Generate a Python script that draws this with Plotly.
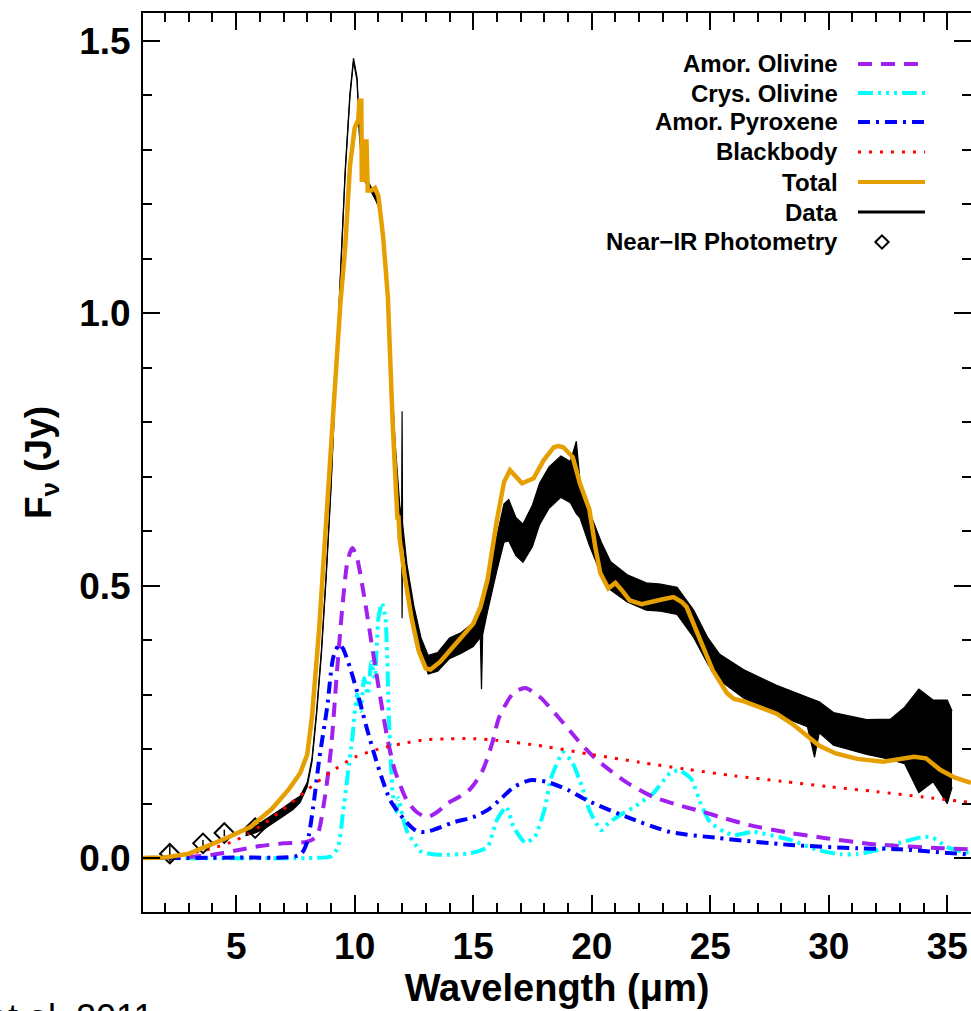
import plotly.graph_objects as go

# ---------------- data ----------------
data_wl = [5.4, 5.8, 6.2, 6.6, 7.0, 7.4, 7.7, 8.0, 8.2, 8.4, 8.6, 8.8, 9.0, 9.2, 9.4, 9.6, 9.8, 9.95,
           10.1, 10.2, 10.35, 10.6, 10.9, 11.1, 11.3, 11.5, 11.7, 11.9, 11.98, 12.0, 12.02, 12.2, 12.5,
           12.8, 13.1, 13.5, 14.0, 14.5, 15.0, 15.3, 15.35, 15.4, 15.6, 16.0, 16.3, 16.5, 16.8, 17.1,
           17.5, 17.8, 18.2, 18.7, 19.1, 19.35, 19.5, 19.9, 20.4, 20.8, 21.5, 22.3, 22.9, 23.6, 24.3,
           24.9, 25.4, 26.4, 27.8, 29.1, 29.4, 29.6, 30.2, 31.6, 32.6, 33.2, 33.8, 34.4, 35.0, 35.2]
data_lo = [0.041, 0.046, 0.054, 0.065, 0.077, 0.089, 0.102, 0.131, 0.177, 0.267, 0.377, 0.517, 0.677,
           0.877, 1.077, 1.257, 1.397, 1.462, 1.427, 1.327, 1.247, 1.231, 1.206, 1.186, 1.096, 0.915,
           0.754, 0.632, 0.600, 0.440, 0.590, 0.520, 0.438, 0.376, 0.338, 0.343, 0.366, 0.376, 0.388,
           0.405, 0.310, 0.410, 0.452, 0.528, 0.580, 0.582, 0.555, 0.543, 0.572, 0.612, 0.642, 0.662,
           0.652, 0.632, 0.625, 0.574, 0.520, 0.492, 0.470, 0.455, 0.453, 0.447, 0.405, 0.356, 0.326,
           0.294, 0.263, 0.241, 0.185, 0.230, 0.207, 0.190, 0.181, 0.173, 0.120, 0.140, 0.100, 0.130]
data_hi = [0.049, 0.058, 0.070, 0.081, 0.093, 0.105, 0.114, 0.139, 0.183, 0.273, 0.383, 0.523, 0.683,
           0.883, 1.083, 1.263, 1.403, 1.468, 1.433, 1.333, 1.253, 1.239, 1.214, 1.194, 1.104, 0.925,
           0.766, 0.648, 0.625, 0.820, 0.615, 0.540, 0.462, 0.404, 0.372, 0.377, 0.404, 0.414, 0.432,
           0.455, 0.455, 0.460, 0.508, 0.592, 0.650, 0.658, 0.625, 0.613, 0.648, 0.688, 0.718, 0.738,
           0.728, 0.765, 0.695, 0.636, 0.580, 0.544, 0.520, 0.505, 0.503, 0.497, 0.455, 0.404, 0.374,
           0.346, 0.317, 0.295, 0.290, 0.287, 0.267, 0.254, 0.255, 0.277, 0.310, 0.290, 0.290, 0.270]

total_wl = [1.0, 2.0, 3.0, 3.6, 4.5, 5.6, 6.5, 7.2, 7.7, 8.0, 8.2, 8.5, 8.8, 9.1, 9.4, 9.6, 9.8, 10.0,
            10.15, 10.2, 10.28, 10.3, 10.4, 10.45, 10.5, 10.55, 10.7, 10.86, 11.0, 11.2, 11.4, 11.6,
            11.8, 11.85, 11.9, 12.1, 12.4, 12.7, 13.0, 13.2, 13.6, 14.0, 14.5, 15.0, 15.3, 15.6, 16.0,
            16.3, 16.55, 16.8, 17.06, 17.55, 17.97, 18.4, 18.6, 18.8, 19.2, 19.5, 19.9, 20.15, 20.36,
            20.7, 21.0, 21.3, 21.6, 22.1, 22.6, 23.0, 23.45, 23.8, 24.0, 24.3, 24.6, 25.1, 25.7, 26.0,
            26.4, 27.0, 27.8, 28.5, 29.1, 29.6, 30.3, 31.2, 32.3, 33.0, 33.6, 34.1, 34.7, 35.3, 36.0]
total_fl = [0.0, 0.001, 0.008, 0.018, 0.035, 0.057, 0.09, 0.125, 0.156, 0.19, 0.26, 0.42, 0.62, 0.82,
            1.02, 1.12, 1.27, 1.34, 1.355, 1.39, 1.39, 1.245, 1.245, 1.315, 1.315, 1.225, 1.225, 1.23,
            1.215, 1.14, 1.03, 0.80, 0.625, 0.625, 0.585, 0.52, 0.44, 0.38, 0.348, 0.346, 0.36, 0.38,
            0.405, 0.43, 0.46, 0.51, 0.62, 0.69, 0.712, 0.70, 0.688, 0.697, 0.73, 0.754, 0.756, 0.754,
            0.736, 0.688, 0.64, 0.571, 0.523, 0.495, 0.505, 0.49, 0.473, 0.466, 0.47, 0.475, 0.479,
            0.47, 0.461, 0.43, 0.394, 0.345, 0.303, 0.292, 0.288, 0.278, 0.265, 0.245, 0.225, 0.206,
            0.192, 0.182, 0.177, 0.182, 0.186, 0.183, 0.162, 0.148, 0.138]

bb_wl = [1.0, 2.0, 3.0, 4.0, 5.0, 6.0, 7.0, 8.0, 9.0, 10.0, 11.0, 12.0, 13.0, 14.0, 15.0, 16.0, 18.0,
         20.0, 22.0, 24.0, 26.0, 28.0, 30.0, 32.0, 34.0, 36.0]
bb_fl = [0.0, 0.002, 0.008, 0.018, 0.033, 0.058, 0.09, 0.125, 0.158, 0.185, 0.200, 0.210, 0.217,
         0.219, 0.219, 0.216, 0.205, 0.190, 0.176, 0.163, 0.151, 0.141, 0.131, 0.122, 0.112, 0.102]

aol_wl = [1.0, 3.0, 4.0, 5.0, 6.0, 7.0, 8.0, 8.4, 8.7, 9.0, 9.25, 9.5, 9.7, 9.9, 10.1, 10.4, 10.8,
          11.1, 11.4, 11.7, 12.2, 12.6, 13.05, 13.5, 13.9, 14.4, 14.9, 15.4, 15.8, 16.1, 16.7, 17.2,
          17.8, 18.7, 19.4, 20.1, 20.8, 21.5, 22.6, 23.6, 24.6, 25.6, 26.6, 28.4, 29.8, 32.0, 34.8, 36.0]
aol_fl = [0.0, 0.002, 0.006, 0.014, 0.022, 0.027, 0.03, 0.04, 0.10, 0.20, 0.34, 0.47, 0.545, 0.569,
          0.55, 0.48, 0.37, 0.29, 0.215, 0.16, 0.106, 0.085, 0.075, 0.085, 0.10, 0.112, 0.128, 0.161,
          0.211, 0.259, 0.303, 0.312, 0.296, 0.253, 0.217, 0.185, 0.16, 0.138, 0.112, 0.098, 0.086,
          0.073, 0.061, 0.046, 0.037, 0.025, 0.018, 0.016]

col_wl = [1.0, 8.0, 9.0, 9.3, 9.5, 9.7, 9.9, 10.1, 10.25, 10.4, 10.55, 10.7, 10.85, 11.0, 11.15, 11.3,
          11.45, 11.6, 11.75, 11.85, 11.95, 12.2, 12.8, 13.5, 14.9, 15.6, 16.0, 16.4, 16.7, 17.2, 17.6,
          18.0, 18.3, 18.8, 19.2, 19.6, 19.9, 20.4, 20.7, 21.2, 21.8, 22.6, 23.3, 23.7, 24.2, 24.6,
          25.0, 25.6, 26.0, 26.8, 28.4, 29.5, 30.5, 31.2, 32.0, 33.0, 34.0, 34.4, 35.0, 35.7, 36.0]
col_fl = [0.0, 0.0, 0.003, 0.02, 0.08, 0.15, 0.22, 0.30, 0.27, 0.33, 0.30, 0.36, 0.33, 0.44, 0.468,
          0.44, 0.25, 0.12, 0.085, 0.11, 0.09, 0.05, 0.012, 0.006, 0.009, 0.02, 0.07, 0.094, 0.057,
          0.028, 0.039, 0.088, 0.149, 0.194, 0.174, 0.13, 0.088, 0.051, 0.064, 0.079, 0.094, 0.119,
          0.156, 0.161, 0.145, 0.10, 0.065, 0.048, 0.042, 0.048, 0.033, 0.015, 0.007, 0.007, 0.014,
          0.028, 0.039, 0.037, 0.02, 0.011, 0.009]

apy_wl = [1.0, 5.0, 7.7, 8.0, 8.25, 8.5, 8.84, 9.1, 9.35, 9.5, 9.8, 10.2, 10.5, 10.9, 11.2, 11.5,
          12.1, 12.6, 13.0, 14.2, 15.0, 15.6, 16.2, 16.7, 17.4, 18.1, 19.0, 19.8, 21.5, 23.3, 25.3,
          28.4, 31.2, 33.0, 36.0]
apy_fl = [0.0, 0.001, 0.006, 0.03, 0.094, 0.18, 0.277, 0.369, 0.392, 0.385, 0.35, 0.29, 0.24, 0.18,
          0.14, 0.106, 0.07, 0.05, 0.048, 0.066, 0.075, 0.088, 0.11, 0.13, 0.143, 0.14, 0.125, 0.106,
          0.075, 0.048, 0.037, 0.024, 0.018, 0.016, 0.006]

phot_wl = [2.2, 3.6, 4.5, 5.8]
phot_fl = [0.008, 0.027, 0.046, 0.055]
phot_err = [0.015, 0.006, 0.006, 0.006]

legend_labels = ["Amor. Olivine", "Crys. Olivine", "Amor. Pyroxene", "Blackbody", "Total", "Data",
                 "Near\u2212IR Photometry"]

# ---------------- styles ----------------
PURPLE = "#A020F0"
CYAN = "#00FFFF"
BLUE = "#0000FF"
RED = "#FF0000"
ORANGE = "#E69F00"
FONT = "Liberation Sans"

DASH_AOL = "14px,9px"
DASH_COL = "15px,5px,3px,5px,3px,5px,3px,5px"
DASH_APY = "12px,6px,3px,6px"
DASH_BB = "3px,8px"

fig = go.Figure()

# data band (noise envelope)
fig.add_trace(go.Scatter(x=data_wl, y=data_hi, mode="lines", line=dict(color="black", width=1.2),
                         showlegend=False, hoverinfo="skip"))
fig.add_trace(go.Scatter(x=data_wl, y=data_lo, mode="lines", line=dict(color="black", width=1.2),
                         fill="tonexty", fillcolor="black", showlegend=False, hoverinfo="skip"))

fig.add_trace(go.Scatter(x=col_wl, y=col_fl, mode="lines",
                         line=dict(color=CYAN, width=4, dash=DASH_COL, shape="spline", smoothing=0.5),
                         showlegend=False))
fig.add_trace(go.Scatter(x=aol_wl, y=aol_fl, mode="lines",
                         line=dict(color=PURPLE, width=4, dash=DASH_AOL, shape="spline", smoothing=0.7),
                         showlegend=False))
fig.add_trace(go.Scatter(x=apy_wl, y=apy_fl, mode="lines",
                         line=dict(color=BLUE, width=4, dash=DASH_APY, shape="spline", smoothing=0.7),
                         showlegend=False))
fig.add_trace(go.Scatter(x=bb_wl, y=bb_fl, mode="lines",
                         line=dict(color=RED, width=3, dash=DASH_BB, shape="spline", smoothing=0.8),
                         showlegend=False))
fig.add_trace(go.Scatter(x=phot_wl, y=phot_fl, mode="markers",
                         marker=dict(symbol="diamond-open", size=15, color="black", line=dict(width=2)),
                         error_y=dict(type="data", array=phot_err, color="black", thickness=1.5, width=0),
                         showlegend=False))
fig.add_trace(go.Scatter(x=total_wl, y=total_fl, mode="lines",
                         line=dict(color=ORANGE, width=4.5),
                         showlegend=False))

# ---------------- manual legend (text right-aligned, sample on the right) ----------------
row_y = [0.9433, 0.9110, 0.8788, 0.8454, 0.8120, 0.7786, 0.7453]
text_x = 0.8418
line_x0, line_x1 = 0.8635, 0.9444
samples = [(PURPLE, DASH_AOL, 4), (CYAN, DASH_COL, 4), (BLUE, DASH_APY, 4), (RED, DASH_BB, 3),
           (ORANGE, "solid", 4), ("black", "solid", 3)]
for lab, yy in zip(legend_labels, row_y):
    fig.add_annotation(x=text_x, y=yy, xref="paper", yref="paper", text=lab, showarrow=False,
                       xanchor="right", yanchor="middle",
                       font=dict(family=FONT, size=24, color="black", weight="bold"))
for (c, d, w), yy in zip(samples, row_y):
    fig.add_shape(type="line", xref="paper", yref="paper", x0=line_x0, x1=line_x1, y0=yy, y1=yy,
                  line=dict(color=c, width=w, dash=d))
# diamond sample
dx, dy = 0.0080, 0.0074
cx, cy = 0.8925, row_y[6]
fig.add_shape(type="path", xref="paper", yref="paper",
              path=f"M {cx-dx} {cy} L {cx} {cy+dy} L {cx+dx} {cy} L {cx} {cy-dy} Z",
              line=dict(color="black", width=2))

# cut-off citation text at bottom-left
fig.add_annotation(x=0.0145, y=-0.092, xref="paper", yref="paper", text="et al. 2011", showarrow=False,
                   xanchor="right", yanchor="top", font=dict(family=FONT, size=36, color="black"))

axis_common = dict(showline=True, linecolor="black", linewidth=2, mirror="ticks", ticks="inside",
                   ticklen=17, tickwidth=1.5, tickcolor="black", showgrid=False, zeroline=False,
                   tickfont=dict(family=FONT, size=37, color="black", weight="bold"))

fig.update_xaxes(range=[1.07, 36.0], tick0=0, dtick=5,
                 minor=dict(dtick=1, ticks="inside", ticklen=9, tickwidth=1.5, tickcolor="black"),
                 title=dict(text="Wavelength (\u03bcm)", standoff=4,
                            font=dict(family=FONT, size=38, color="black", weight="bold")),
                 ticklabelstandoff=1, **axis_common)
fig.update_yaxes(range=[-0.099, 1.551], tick0=0, dtick=0.5, tickformat=".1f",
                 minor=dict(dtick=0.1, ticks="inside", ticklen=9, tickwidth=1.5, tickcolor="black"),
                 title=dict(text="F<sub>\u03bd</sub> (Jy)", standoff=16,
                            font=dict(family=FONT, size=37, color="black", weight="bold")),
                 ticklabelstandoff=3, **axis_common)

fig.update_layout(width=971, height=1011, margin=dict(l=143, r=0, t=13, b=99, pad=0,
                                                      autoexpand=False),
                  plot_bgcolor="white", paper_bgcolor="white", showlegend=False)

# remove the default 8px body margin so the figure fills the window exactly
fig.write_html("out.html", config={"displayModeBar": False},
               post_script="document.body.style.margin='0px';document.body.style.overflow='hidden';")
